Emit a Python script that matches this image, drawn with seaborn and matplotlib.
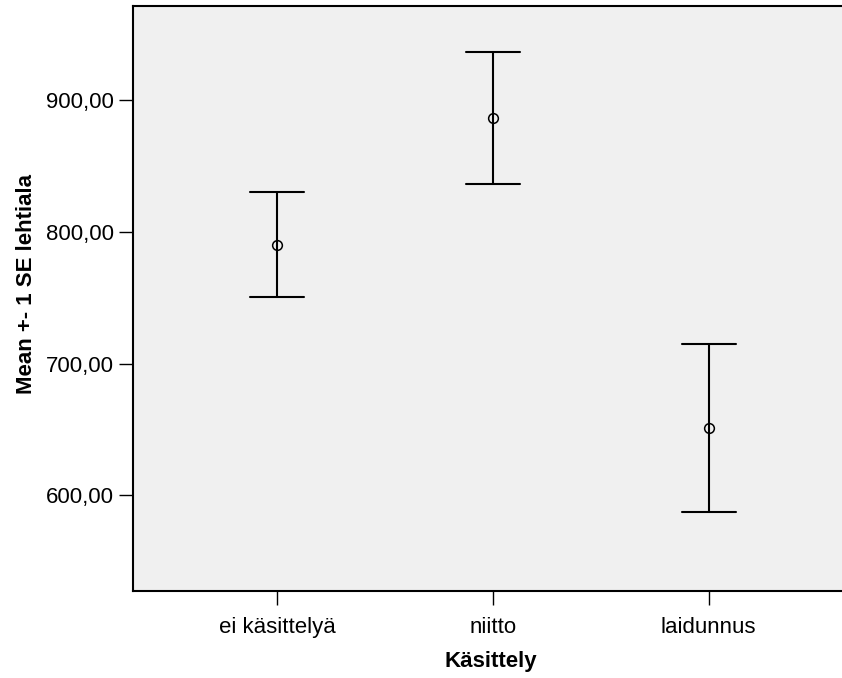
import numpy as np
import pandas as pd
import matplotlib
matplotlib.use("Agg")
import matplotlib.pyplot as plt
import seaborn as sns
from matplotlib.ticker import FixedLocator, FuncFormatter

categories = ["ei käsittelyä", "niitto", "laidunnus"]
means = [790.3, 886.6, 651.0]
lower = [750.5, 836.3, 587.3]
upper = [830.2, 936.4, 714.5]
yticks = [600, 700, 800, 900]

rows = []
for c, lo, m, hi in zip(categories, lower, means, upper):
    for v in (lo, m, hi):
        rows.append({"Käsittely": c, "lehtiala": v})
df = pd.DataFrame(rows)

sns.set_theme(style="white")
plt.rcParams["font.family"] = ["Liberation Sans", "DejaVu Sans"]

fig = plt.figure(figsize=(8.42, 6.78), dpi=100)
ax = fig.add_axes([132.7 / 842, 1 - 591 / 678, 1 - 132.7 / 842, (591 - 5.7) / 678])
ax.set_facecolor("#f0f0f0")

sns.pointplot(
    data=df, x="Käsittely", y="lehtiala", order=categories,
    estimator="median", errorbar=("pi", 100),
    color="black", linestyle="none", markers="o", capsize=0.25,
    linewidth=1.5, markersize=7, markeredgewidth=1.1,
    err_kws={"linewidth": 1.5}, ax=ax,
)
for line in ax.lines:
    if line.get_marker() == "o":
        line.set_markerfacecolor("none")
        line.set_zorder(5)

ax.set_xlim(-0.6685, 2.6176)
ax.set_ylim(527.4, 971.6)
ax.yaxis.set_major_locator(FixedLocator(yticks))
ax.yaxis.set_major_formatter(FuncFormatter(lambda v, p: f"{v:.2f}".replace(".", ",")))

for s in ["left", "top", "bottom"]:
    ax.spines[s].set_visible(True)
    ax.spines[s].set_color("black")
    ax.spines[s].set_linewidth(1.5)
ax.spines["right"].set_visible(False)

ax.tick_params(axis="both", which="major", length=10, width=1.0, color="black",
               labelsize=16, labelcolor="black", pad=3.5, left=True, bottom=True)
ax.tick_params(axis="x", pad=8.6)

ax.set_xlabel("Käsittely", fontsize=16, fontweight="bold", color="black")
ax.set_ylabel("Mean +- 1 SE lehtiala", fontsize=16, fontweight="bold", color="black")
ax.xaxis.set_label_coords((491 - 132.7) / (842 - 132.7), -(651 - 591) / (591 - 5.7))
ax.yaxis.set_label_coords(-(132.7 - 37) / (842 - 132.7), 1 - (284 - 5.7) / (591 - 5.7))

fig.savefig("out.png", dpi=100)
